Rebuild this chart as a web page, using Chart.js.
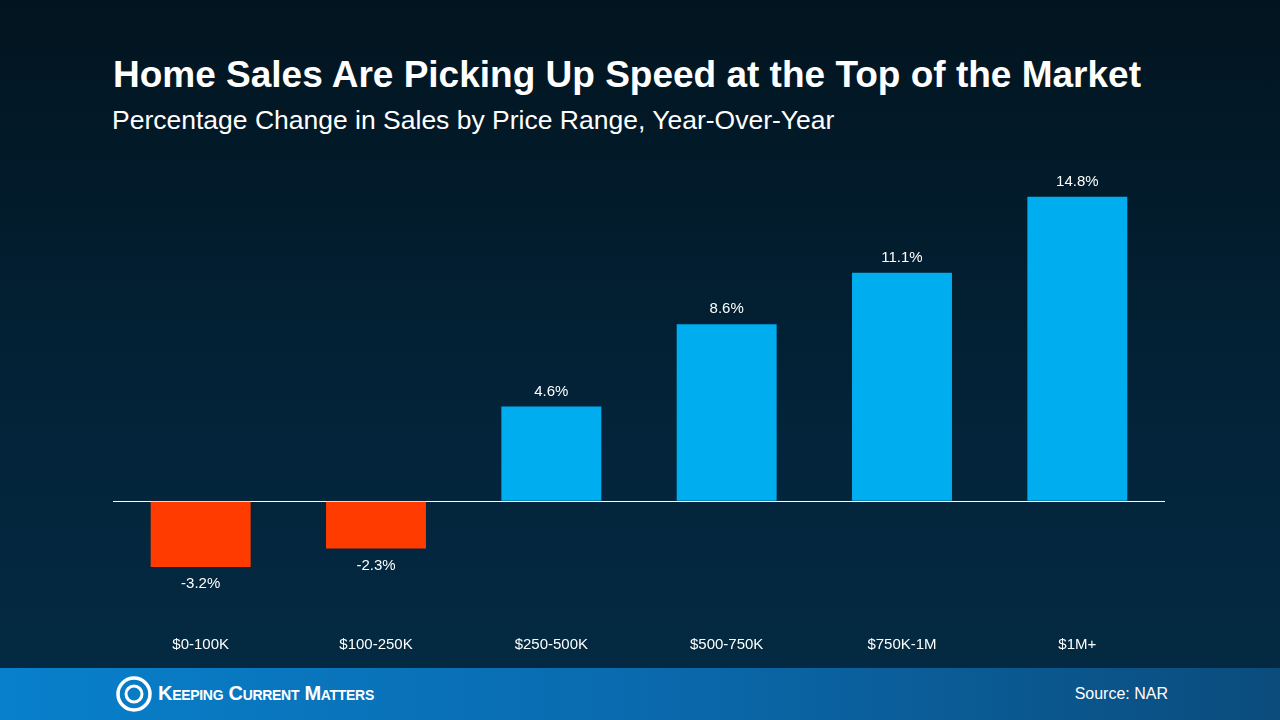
<!DOCTYPE html>
<html>
<head>
<meta charset="utf-8">
<script src="https://cdn.jsdelivr.net/npm/chart.js@4"></script>
<style>
  body { margin: 0; width: 1280px; height: 720px; overflow: hidden; font-family: Arial, "Liberation Sans", sans-serif;
         background: linear-gradient(to bottom, #02141f 0%, #03243a 60%, #042b44 100%); position: relative; }
  #title { position: absolute; left: 113px; top: 54px; color: #fff; font-size: 37px; font-weight: bold; }
  #sub { position: absolute; left: 112px; top: 105px; color: #fff; font-size: 26.5px; }
  #wrap { position: absolute; left: 0; top: 0; width: 1280px; height: 692px; }
  #footer { position: absolute; left: 0; top: 668px; width: 1280px; height: 52px;
            background: linear-gradient(to right, #0880cc 0%, #0a6aae 50%, #0b4c7c 100%); }
  #logo { position: absolute; left: 116px; top: 8px; width: 36px; height: 36px; }
  #brand { position: absolute; left: 158px; top: 14px; color: #fff; font-size: 20px; font-weight: bold; font-variant: small-caps; letter-spacing: -0.3px; }
  #source { position: absolute; right: 112px; top: 17px; color: #fff; font-size: 16px; }
</style>
</head>
<body>
<div id="title">Home Sales Are Picking Up Speed at the Top of the Market</div>
<div id="sub">Percentage Change in Sales by Price Range, Year-Over-Year</div>
<div id="wrap"><canvas id="c"></canvas></div>
<div id="footer">
  <svg id="logo" viewBox="0 0 36 36"><circle cx="18" cy="18" r="16" fill="none" stroke="#fff" stroke-width="3.5"/><circle cx="18" cy="18" r="8" fill="none" stroke="#fff" stroke-width="3"/></svg>
  <div id="brand">Keeping Current Matters</div>
  <div id="source">Source: NAR</div>
</div>
<script>
const categories = ['$0-100K', '$100-250K', '$250-500K', '$500-750K', '$750K-1M', '$1M+'];
const values = [-3.2, -2.3, 4.6, 8.6, 11.1, 14.8];
const labels = ['-3.2%', '-2.3%', '4.6%', '8.6%', '11.1%', '14.8%'];

const valueLabels = {
  id: 'valueLabels',
  afterDatasetsDraw(chart) {
    const ctx = chart.ctx;
    const meta = chart.getDatasetMeta(0);
    ctx.save();
    ctx.fillStyle = '#fff';
    ctx.font = '15px Arial';
    ctx.textAlign = 'center';
    ctx.textBaseline = 'middle';
    meta.data.forEach((bar, i) => {
      const y = values[i] >= 0 ? bar.y - 15 : bar.y + 17;
      ctx.fillText(labels[i], bar.x, y);
    });
    ctx.restore();
  }
};

new Chart(document.getElementById('c'), {
  type: 'bar',
  data: {
    labels: categories,
    datasets: [{
      data: values,
      backgroundColor: values.map(v => v < 0 ? '#ff3b00' : '#00adef'),
      categoryPercentage: 1,
      barPercentage: 0.57
    }]
  },
  options: {
    responsive: true,
    maintainAspectRatio: false,
    animation: false,
    layout: { padding: { left: 113, right: 115, top: 172, bottom: 14 } },
    plugins: { legend: { display: false }, tooltip: { enabled: false } },
    scales: {
      x: {
        grid: { display: false },
        border: { display: false },
        ticks: { color: '#fff', font: { size: 15, family: 'Arial' }, padding: 24 }
      },
      y: {
        min: -5, max: 16,
        ticks: { display: false, stepSize: 1 },
        border: { display: false },
        grid: { drawTicks: false, color: c => c.tick.value === 0 ? '#ffffff' : 'rgba(0,0,0,0)', lineWidth: 1 }
      }
    }
  },
  plugins: [valueLabels]
});
</script>
</body>
</html>
